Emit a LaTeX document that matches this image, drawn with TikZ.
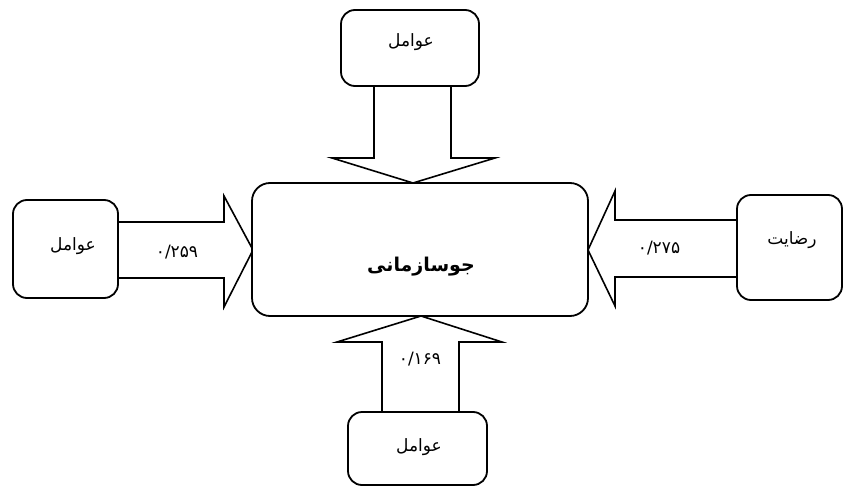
\documentclass[tikz,border=0pt]{standalone}
\usepackage{fontspec}
\newfontfamily\arabicfont[Script=Arabic]{DejaVu Sans}
\TeXXeTstate=1
\begin{document}
\begin{tikzpicture}[x=1pt,y=-1pt,
  box/.style={draw,line width=1.8pt,rounded corners=14pt,fill=white,inner sep=0pt},
  blockarrow/.style={draw,line width=1.6pt,fill=white,line join=miter},
  word/.style={font=\arabicfont\fontsize{17}{20}\selectfont,inner sep=0pt},
  num/.style={font=\arabicfont\fontsize{17}{20}\selectfont,inner sep=0pt}]
\useasboundingbox (0,0) rectangle (845,486);
% block arrows
\draw[blockarrow] (374,86) -- (374,158) -- (332,158) -- (413,183) -- (495,158) -- (451,158) -- (451,86) -- cycle;
\draw[blockarrow] (118,222) -- (224,222) -- (224,196) -- (253,250) -- (224,307) -- (224,278) -- (118,278) -- cycle;
\draw[blockarrow] (737,220) -- (615,220) -- (615,191) -- (588,250) -- (615,306) -- (615,277) -- (737,277) -- cycle;
\draw[blockarrow] (382,412) -- (382,342) -- (337,342) -- (421,316) -- (502,342) -- (459,342) -- (459,412) -- cycle;
% boxes
\node[box,minimum width=336pt,minimum height=133pt,rounded corners=18pt] (center) at (420,249.5) {};
\node[box,minimum width=138pt,minimum height=76pt] (top) at (410,48) {};
\node[box,minimum width=105pt,minimum height=98pt] (left) at (65.5,249) {};
\node[box,minimum width=105pt,minimum height=105pt] (right) at (789.5,247.5) {};
\node[box,minimum width=139pt,minimum height=73pt] (bottom) at (417.5,448.5) {};
% texts
\node[font=\arabicfont\bfseries\fontsize{19}{22}\selectfont,inner sep=0pt] (ct) at (421,267) {\beginR جوسازمانی\endR};
\node[word] (tt) at (411,42) {\beginR عوامل\endR};
\node[word] (lt) at (73,246) {\beginR عوامل\endR};
\node[word] (rt) at (792,240) {\beginR رضایت\endR};
\node[word] (bt) at (419,447) {\beginR عوامل\endR};
\node[num] (ln) at (177,252) {۰/۲۵۹};
\node[num] (rn) at (659,248) {۰/۲۷۵};
\node[num] (bn) at (420,359) {۰/۱۶۹};
\end{tikzpicture}
\end{document}
